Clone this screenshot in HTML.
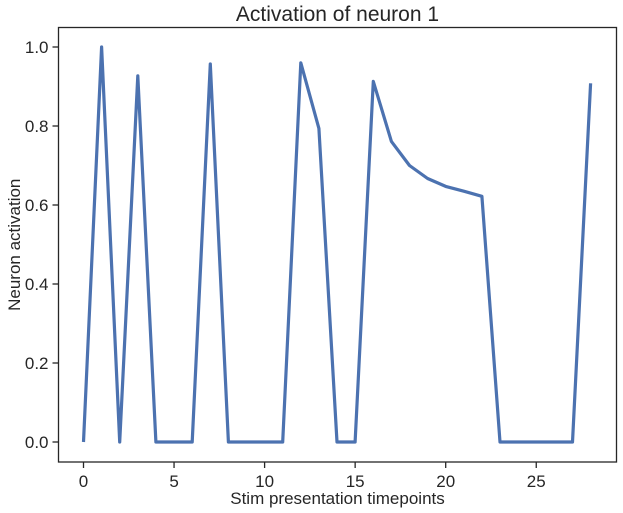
<!DOCTYPE html>
<html><head><meta charset="utf-8"><style>
body{margin:0;background:#fff;}
svg{display:block;font-family:"Liberation Sans",sans-serif;}
</style></head><body>
<svg id="chart" width="623" height="513"></svg>
<script>
const timepoints=[0,1,2,3,4,5,6,7,8,9,10,11,12,13,14,15,16,17,18,19,20,21,22,23,24,25,26,27,28];
const activation=[0,1.0,0,0.927,0,0,0,0.957,0,0,0,0,0.96,0.794,0,0,0.913,0.761,0.70,0.667,0.647,0.635,0.622,0,0,0,0,0,0.908];
const xTicks=[0,5,10,15,20,25];
const yTicks=[0.0,0.2,0.4,0.6,0.8,1.0];
const NS="http://www.w3.org/2000/svg";
const svg=document.getElementById('chart');
const L=58.5,R=616.5,T=27.5,B=462;
function xs(v){return 83.5+v*18.11;}
function ys(v){return 442-v*395;}
function mk(tag,attrs,parent){const e=document.createElementNS(NS,tag);for(const k in attrs)e.setAttribute(k,attrs[k]);(parent||svg).appendChild(e);return e;}
const frame=mk('rect',{x:L,y:T,width:R-L,height:B-T,fill:'none',stroke:'#262626','stroke-width':1.3});


xTicks.forEach(t=>{
  const x=xs(t);
  const ln=mk('line',{x1:x,x2:x,y1:B,y2:B+6,stroke:'#262626','stroke-width':1.3});
  
  
  const tx=mk('text',{x:x,y:B+25,'text-anchor':'middle','font-size':17,fill:'#262626'});
  tx.textContent=t;
  
  
});
yTicks.forEach(t=>{
  const y=ys(t);
  const ln=mk('line',{x1:L-6,x2:L,y1:y,y2:y,stroke:'#262626','stroke-width':1.3});
  
  
  const tx=mk('text',{x:L-10,y:y+6,'text-anchor':'end','font-size':17,fill:'#262626'});
  tx.textContent=t.toFixed(1);
  
  
});
const pts=timepoints.map((t,i)=>xs(t).toFixed(1)+','+ys(activation[i]).toFixed(1)).join(' ');
const line=mk('polyline',{points:pts,fill:'none',stroke:'#4c72b0','stroke-width':3.2,'stroke-linejoin':'round'});


const title=mk('text',{x:(L+R)/2,y:21,'text-anchor':'middle','font-size':21,fill:'#262626'});
title.textContent='Activation of neuron 1';


const xl=mk('text',{x:(L+R)/2,y:504,'text-anchor':'middle','font-size':17,fill:'#262626'});
xl.textContent='Stim presentation timepoints';


const yl=mk('text',{x:0,y:0,'text-anchor':'middle','font-size':17,fill:'#262626',transform:'translate(20,'+((T+B)/2)+') rotate(-90)'});
yl.textContent='Neuron activation';


</script>
</body></html>
